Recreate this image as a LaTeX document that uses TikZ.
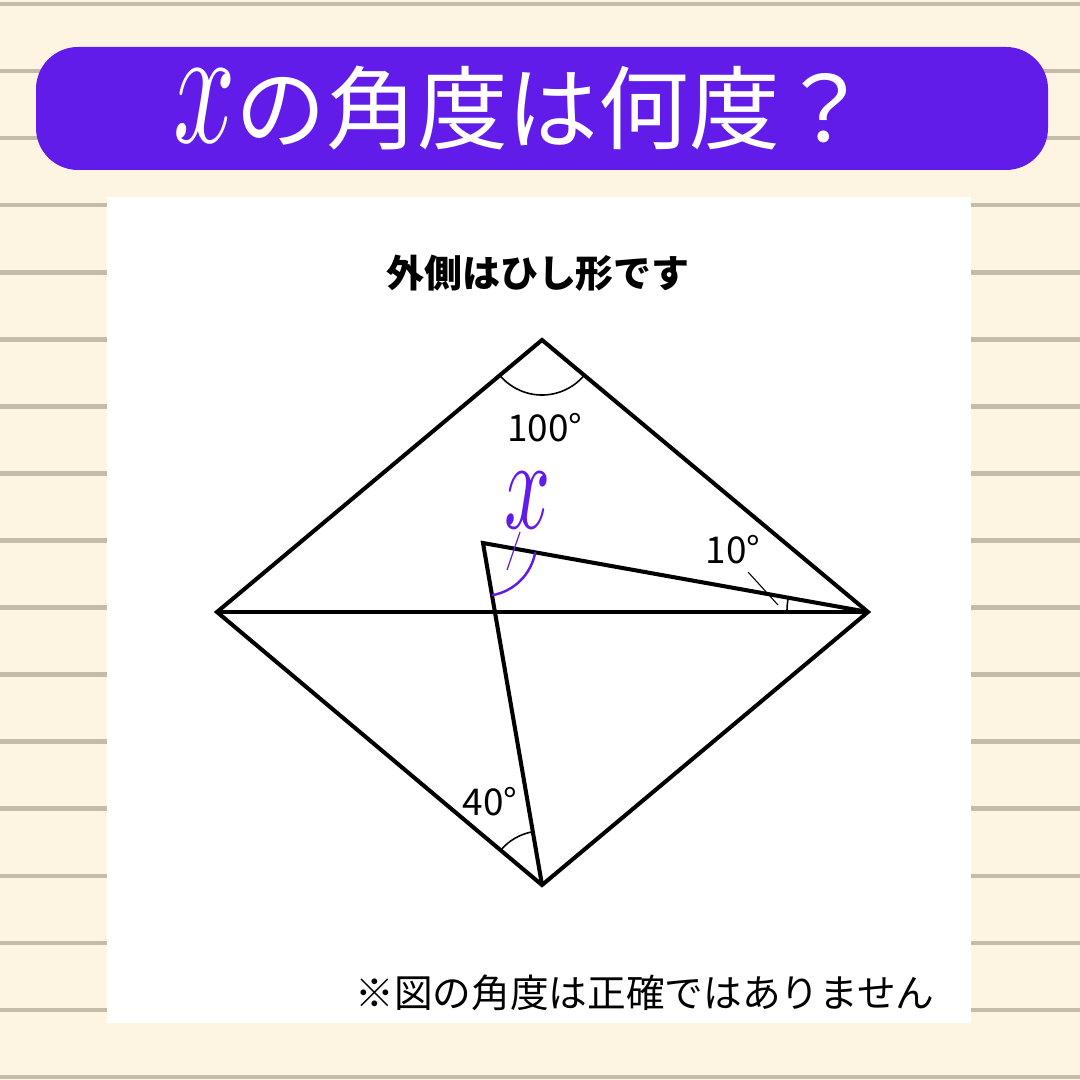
\documentclass[tikz,border=0pt]{standalone}
\usepackage{fontspec}
\setmainfont{Noto Sans CJK JP}
\usetikzlibrary{angles}
\definecolor{paper}{HTML}{FDF5E2}
\definecolor{ruling}{HTML}{C4BCA8}
\definecolor{qpurple}{HTML}{621CEA}
\newcommand{\varx}[2]{\scalebox{#1}[#2]{\fontsize{10}{10}\selectfont$x$}}
\begin{document}
\begin{tikzpicture}[x=0.01cm, y=-0.01cm,
  edge/.style={line width=1.15pt, line join=miter},
  arcmark/.style={draw, line width=0.45pt},
  deg/.style={font=\fontsize{10.5}{12}\selectfont, inner sep=1pt}]
\useasboundingbox (0,0) rectangle (1080,1080);
\fill[paper] (0,0) rectangle (1080,1080);
\foreach \k in {0,...,16}
  \draw[ruling, line width=1.3pt] (0,{4+67.06*\k}) -- (1080,{4+67.06*\k});
% banner and sheet
\fill[qpurple, rounded corners=0.42cm] (36,47) rectangle (1048,170);
\node[text=white, font=\fontsize{25.8}{27}\selectfont, anchor=base] (title) at (522,143)
  {\varx{3.1}{4.8}の角度は何度？};
\fill[white] (107,197) rectangle (971,1023);
\node[font=\bfseries\fontsize{10.8}{12}\selectfont] (note) at (538,273) {外側はひし形です};
\node[font=\fontsize{11}{12}\selectfont] (caution) at (645,993) {※図の角度は正確ではありません};
% rhombus
\coordinate (T) at (542,340);
\coordinate (R) at (868,612);
\coordinate (B) at (542,885);
\coordinate (L) at (217,612);
\coordinate (P) at (483,543);
\draw[edge] (T) -- (R) -- (B) -- (L) -- cycle;
\draw[edge] (L) -- (R);
\draw[edge] (R) -- (P) -- (B);
% angles
\pic[arcmark, angle radius=0.55cm] {angle=L--T--R};
\pic[arcmark, angle radius=0.81cm] {angle=P--R--L};
\pic[arcmark, angle radius=0.54cm] {angle=P--B--L};
\pic[draw=qpurple, line width=0.7pt, angle radius=0.53cm] {angle=B--P--R};
\node[deg] (top) at (545,428) {100°};
\node[deg] (ten) at (733,550) {10°};
\node[deg] (forty) at (490,802) {40°};
\node[text=qpurple, inner sep=0pt] (xlab) at (528,500) {\varx{2.3}{3.7}};
\coordinate (xa) at (520,532);
\coordinate (xb) at (507,570);
\draw[qpurple, line width=0.35pt] (xa) -- (xb);
\coordinate (ta) at (748,572);
\coordinate (tb) at (778,605);
\draw[line width=0.3pt] (ta) -- (tb);
\end{tikzpicture}
\end{document}
